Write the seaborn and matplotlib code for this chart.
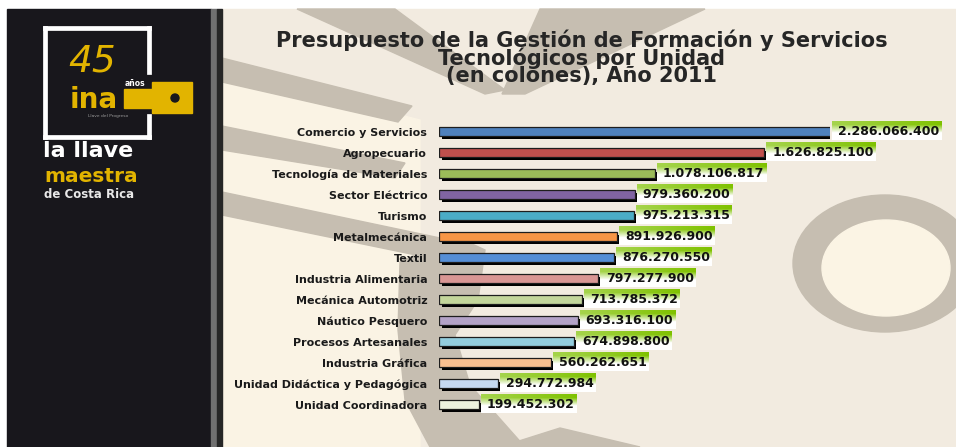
import numpy as np
import matplotlib
matplotlib.use("Agg")
import matplotlib.pyplot as plt
import matplotlib.patheffects as pe
from matplotlib.patches import Rectangle, Polygon, Ellipse, Circle
import seaborn as sns

# --- data -----------------------------------------------------------------
units = [
    "Comercio y Servicios", "Agropecuario", "Tecnología de Materiales",
    "Sector Eléctrico", "Turismo", "Metalmecánica", "Textil",
    "Industria Alimentaria", "Mecánica Automotriz", "Náutico Pesquero",
    "Procesos Artesanales", "Industria Gráfica",
    "Unidad Didáctica y Pedagógica", "Unidad Coordinadora",
]
budget = [
    2286066400, 1626825100, 1078106817, 979360200, 975213315, 891926900,
    876270550, 797277900, 713785372, 693316100, 674898800, 560262651,
    294772984, 199452302,
]
bar_colors = [
    "#4F81BD", "#C0504D", "#9BBB59", "#8064A2", "#4BACC6", "#F79646",
    "#558ED5", "#D99694", "#C3D69B", "#B3A2C7", "#93CDDD", "#FAC090",
    "#C6D9F1", "#EBF1DE",
]
title_lines = [
    "Presupuesto de la Gestión de Formación y Servicios",
    "Tecnológicos por Unidad",
    "(en colones), Año 2011",
]

W, H = 956, 447
X_MAX = 1.955e9   # the longest bar is cut at the edge of the plot area

fig = plt.figure(figsize=(W / 100, H / 100), dpi=100)

# --- background and left panel (pixel coordinates) -------------------------
bg = fig.add_axes([0, 0, 1, 1], zorder=0)
bg.set_xlim(0, W)
bg.set_ylim(H, 0)
bg.axis("off")

grey = "#C6BEB1"
bg.add_patch(Rectangle((0, 0), W, H, color="white"))
bg.add_patch(Rectangle((222, 9), W - 222, H - 9, color="#F2EBE0"))
bg.add_patch(Polygon([(222, 70), (420, 120), (420, 447), (222, 447)], color="#FAF3E4"))
# diagonal stripes
bg.add_patch(Polygon([(222, 58), (412, 106), (398, 122), (222, 82)], color=grey))
bg.add_patch(Polygon([(222, 126), (405, 163), (395, 178), (222, 150)], color=grey))
bg.add_patch(Polygon([(222, 192), (440, 238), (450, 262), (222, 215)], color=grey))
# big curved shape behind the labels
bg.add_patch(Polygon([(400, 262), (455, 236), (485, 250), (478, 300), (455, 335),
                      (470, 385), (525, 447), (430, 447), (405, 400), (398, 330)],
                     color=grey))
bg.add_patch(Polygon([(500, 447), (560, 428), (640, 447)], color=grey))
# top "V"
bg.add_patch(Polygon([(297, 9), (395, 9), (505, 90), (485, 94)], color=grey))
bg.add_patch(Polygon([(540, 9), (705, 9), (525, 94), (502, 94)], color=grey))
# ring on the right
bg.add_patch(Ellipse((885, 263.5), 184, 137, color=grey))
bg.add_patch(Ellipse((886, 268), 128, 96, color="#FBF4E4"))

# dark panel with logo
bg.add_patch(Rectangle((7, 9), 204, H - 9, color="#18171C"))
bg.add_patch(Rectangle((211, 9), 6, H - 9, color="#707070"))
bg.add_patch(Rectangle((217, 9), 5, H - 9, color="#262626"))
yellow = "#E2B400"
for seg in [((45, 45), (28, 137)), ((45, 149), (28, 28)), ((149, 149), (28, 72)),
            ((149, 149), (116, 137)), ((45, 149), (137, 137))]:
    bg.plot(seg[0], seg[1], color="white", lw=3.4, solid_capstyle="projecting")
bg.text(92, 72, "45", color=yellow, fontsize=27, style="italic",
        ha="center", va="baseline")
bg.text(135, 84, "años", color="white", fontsize=5.5, weight="bold",
        ha="center", va="center")
bg.add_patch(Polygon([(124, 89), (152, 89), (152, 82), (192, 82), (192, 113),
                      (152, 113), (152, 108), (124, 108)], color=yellow))
bg.add_patch(Circle((175, 98), 4, color="#18171C"))
bg.text(70, 108, "ina", color=yellow, fontsize=20, weight="bold",
        ha="left", va="baseline")
bg.text(108, 116, "Llave del Progreso", color="#9a9a9a", fontsize=3.2,
        ha="center", va="center")
bg.text(43, 157, "la llave", color="white", fontsize=16, weight="bold",
        ha="left", va="baseline")
bg.text(44, 182, "maestra", color=yellow, fontsize=14.5, weight="bold",
        ha="left", va="baseline")
bg.text(44, 198, "de Costa Rica", color="#e8e8e8", fontsize=8.5, weight="bold",
        ha="left", va="baseline")

# title
bg.text(582, 58, "\n".join(title_lines), ha="center", va="center", fontsize=15,
        weight="bold", color="#262626", linespacing=0.8, multialignment="center")

# --- bars -------------------------------------------------------------------
ax = fig.add_axes([439 / W, (H - 415.2) / H, 391 / W, 294 / H], zorder=1)
ax.patch.set_alpha(0)
sns.barplot(x=budget, y=units, hue=units, palette=bar_colors, legend=False,
            orient="h", width=0.42, saturation=1, edgecolor="#1e1e1e",
            linewidth=0.9, ax=ax)
shadow = [pe.SimplePatchShadow(offset=(2.2, -2.2), shadow_rgbFace="black", alpha=1.0),
          pe.Normal()]
for p in ax.patches:
    p.set_path_effects(shadow)
ax.set_xlim(0, X_MAX)
ax.set_ylim(len(units) - 0.5, -0.5)
ax.set_xticks([])
ax.set_xlabel("")
ax.set_ylabel("")
for s in ax.spines.values():
    s.set_visible(False)
ax.tick_params(axis="y", length=0, pad=8.5, labelsize=8, labelcolor="#1a1a1a")
for lbl in ax.get_yticklabels():
    lbl.set_fontweight("bold")

# --- value labels in white/green boxes ----------------------------------------
ov = fig.add_axes([0, 0, 1, 1], zorder=3)
ov.set_xlim(0, W)
ov.set_ylim(H, 0)
ov.axis("off")

texts = []
for i, v in enumerate(budget):
    dx, dy = ax.transData.transform((min(v, X_MAX), i))
    x0 = dx + 2
    yc = H - dy - 1
    lab = f"{v:,}".replace(",", ".")
    t = ov.text(x0 + 6, yc + 0.5, lab, ha="left", va="center", fontsize=9,
                weight="bold", color="#111111", zorder=6)
    texts.append((t, x0, yc))

fig.canvas.draw()
renderer = fig.canvas.get_renderer()
green = np.array([0.50, 0.76, 0.0])
for t, x0, yc in texts:
    ext = t.get_window_extent(renderer)
    x1 = ext.x1 + 2
    h, w = 19, int(round(x1 - x0))
    ys = np.linspace(0, 1, h)[:, None]
    xs = np.linspace(0, 1, w)[None, :]
    g = np.clip((0.62 - ys) / 0.45, 0, 1) * (0.7 + 0.3 * xs)
    img = (1 - g[..., None]) * 1.0 + g[..., None] * green
    ov.imshow(img, extent=(x0, x1, yc + h / 2, yc - h / 2), aspect="auto",
              interpolation="bilinear", zorder=5)
ov.set_xlim(0, W)
ov.set_ylim(H, 0)

fig.savefig("out.png", dpi=100)
